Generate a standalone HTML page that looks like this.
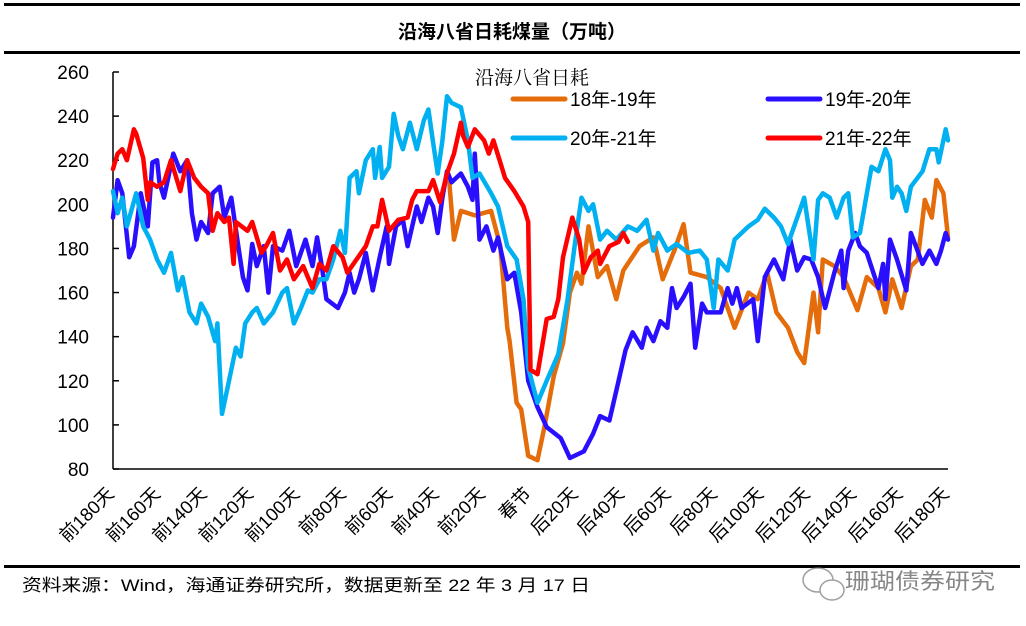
<!DOCTYPE html>
<html><head><meta charset="utf-8">
<style>
body{margin:0;background:#fff;width:1026px;height:626px;overflow:hidden;font-family:"Liberation Sans","Noto Sans CJK SC",sans-serif;}
svg{display:block}
</style></head>
<body>
<svg id="chart" width="1026" height="626" viewBox="0 0 1026 626" xmlns="http://www.w3.org/2000/svg">
<rect x="4" y="3" width="1016" height="3" fill="#000"/>
<text x="512" y="38" text-anchor="middle" font-size="19" font-weight="bold" font-family="'Liberation Sans','Noto Sans CJK SC',sans-serif">沿海八省日耗煤量（万吨）</text>
<rect x="4" y="51" width="1016" height="3" fill="#000"/>
<g id="axes"></g>
<g id="series"></g>
<g>
<text x="475" y="84" font-size="19" font-family="'Liberation Serif','Noto Serif CJK SC',serif">沿海八省日耗</text>
<line x1="513" y1="99" x2="565" y2="99" stroke="#E46C0A" stroke-width="5" stroke-linecap="round"/>
<text x="570" y="106" font-size="19">18年-19年</text>
<line x1="768" y1="99" x2="820" y2="99" stroke="#2A0FFF" stroke-width="5" stroke-linecap="round"/>
<text x="825" y="106" font-size="19">19年-20年</text>
<line x1="513" y1="138" x2="565" y2="138" stroke="#00B0F0" stroke-width="5" stroke-linecap="round"/>
<text x="570" y="145" font-size="19">20年-21年</text>
<line x1="768" y1="138" x2="820" y2="138" stroke="#FF0000" stroke-width="5" stroke-linecap="round"/>
<text x="825" y="145" font-size="19">21年-22年</text>
</g>
<rect x="4" y="565" width="1016" height="3" fill="#000"/>
<text x="22" y="591" font-size="17" textLength="568" lengthAdjust="spacingAndGlyphs">资料来源：Wind，海通证券研究所，数据更新至 22 年 3 月 17 日</text>
<g opacity="0.7">
<ellipse cx="818" cy="580" rx="15" ry="12" fill="none" stroke="#777" stroke-width="1.5"/>
<ellipse cx="832" cy="590" rx="12" ry="10" fill="#fff" stroke="#777" stroke-width="1.5"/>
<text x="845" y="589" font-size="22" fill="#555" textLength="150" lengthAdjust="spacingAndGlyphs">珊瑚债券研究</text>
</g>
</svg>
<script>
const yTicks = [80,100,120,140,160,180,200,220,240,260];
const xCats = ["前180天","前160天","前140天","前120天","前100天","前80天","前60天","前40天","前20天","春节","后20天","后40天","后60天","后80天","后100天","后120天","后140天","后160天","后180天"];
const s1819 = [[-35,210],[-33,184],[-30,197],[-24,195],[-17,197],[-13,181],[-10,144],[-9,138],[-6,110],[-4,107],[-1,86],[3,84],[6,99],[10,122],[14,137],[17,160],[20,169],[22,164],[25,190],[29,167],[33,172],[37,157],[40,170],[47,181],[53,185],[57,166],[62,179],[66,191],[69,169],[76,167],[82,162],[88,144],[94,160],[98,157],[102,169],[106,151],[111,144],[115,133],[118,128],[122,160],[124,142],[126,175],[131,172],[135,167],[141,152],[145,167],[150,162],[153,151],[156,166],[160,153],[164,172],[167,175],[170,202],[173,194],[175,211],[178,205],[180,185]];
const s1920 = [[-180,194],[-178,211],[-176,205],[-173,176],[-171,181],[-168,205],[-165,190],[-163,219],[-161,220],[-160,210],[-158,203],[-154,223],[-151,215],[-148,220],[-146,196],[-144,184],[-142,192],[-139,187],[-137,205],[-134,208],[-132,194],[-129,203],[-126,181],[-124,167],[-122,161],[-120,182],[-118,172],[-115,181],[-113,160],[-111,181],[-107,179],[-104,188],[-101,172],[-97,184],[-94,172],[-92,185],[-90,172],[-88,157],[-83,153],[-80,160],[-78,169],[-76,160],[-74,166],[-71,178],[-68,161],[-65,176],[-62,190],[-61,173],[-58,190],[-55,193],[-53,181],[-49,199],[-47,192],[-44,203],[-42,199],[-40,187],[-38,203],[-36,215],[-34,210],[-30,214],[-27,208],[-25,202],[-24,223],[-22,184],[-19,190],[-16,179],[-14,185],[-10,166],[-7,169],[-4,151],[-1,120],[3,108],[7,99],[13,94],[17,85],[23,88],[27,96],[30,104],[34,102],[38,120],[41,134],[44,142],[48,135],[50,144],[53,138],[56,147],[59,144],[61,162],[63,153],[66,158],[69,164],[71,135],[74,155],[76,151],[82,151],[85,162],[87,155],[89,162],[91,153],[96,157],[98,138],[101,167],[105,175],[109,166],[112,184],[115,170],[118,176],[121,175],[124,167],[127,153],[131,169],[134,179],[135,162],[137,179],[140,187],[142,181],[145,178],[150,162],[152,173],[153,157],[155,184],[158,175],[162,161],[164,187],[169,173],[172,179],[175,173],[177,179],[179,187],[180,184]];
const s2021 = [[-180,206],[-178,196],[-176,203],[-174,190],[-170,205],[-167,190],[-164,184],[-161,175],[-158,169],[-155,178],[-152,161],[-150,167],[-147,151],[-144,146],[-142,155],[-139,149],[-136,138],[-135,146],[-133,105],[-130,120],[-127,135],[-125,131],[-123,146],[-120,151],[-118,153],[-115,146],[-111,151],[-107,160],[-105,162],[-102,146],[-99,153],[-96,161],[-94,160],[-91,166],[-88,166],[-85,175],[-82,188],[-80,178],[-78,212],[-75,215],[-74,205],[-71,220],[-68,225],[-67,212],[-65,226],[-64,212],[-61,217],[-59,241],[-57,231],[-55,225],[-52,237],[-49,225],[-46,238],[-44,243],[-42,228],[-40,214],[-38,229],[-36,249],[-34,246],[-30,244],[-27,229],[-25,212],[-22,214],[-17,205],[-14,199],[-10,181],[-6,175],[-3,157],[-1,126],[3,110],[7,120],[12,132],[16,157],[19,181],[22,203],[25,197],[27,200],[30,184],[33,188],[37,184],[42,190],[46,188],[50,193],[53,179],[55,187],[59,179],[63,182],[68,178],[73,179],[76,175],[79,153],[81,175],[85,170],[88,184],[94,190],[98,193],[101,198],[105,194],[108,190],[111,182],[113,188],[118,203],[122,175],[124,202],[126,205],[129,203],[132,194],[135,203],[137,205],[139,185],[142,187],[147,217],[150,215],[153,225],[155,220],[156,203],[158,208],[160,205],[162,197],[164,208],[169,215],[172,225],[175,225],[176,219],[179,234],[180,229]];
const s2122 = [[-180,216],[-178,223],[-176,225],[-174,220],[-171,234],[-170,232],[-167,221],[-165,202],[-164,210],[-161,208],[-158,210],[-155,220],[-151,206],[-148,220],[-145,212],[-142,208],[-139,205],[-137,188],[-135,196],[-132,192],[-130,194],[-128,173],[-127,192],[-122,188],[-120,192],[-116,178],[-114,181],[-111,187],[-108,170],[-105,175],[-102,166],[-98,172],[-94,162],[-91,173],[-88,170],[-85,181],[-81,176],[-79,169],[-75,175],[-71,181],[-68,190],[-66,190],[-64,202],[-61,188],[-57,193],[-53,194],[-51,202],[-49,206],[-44,206],[-42,211],[-39,201],[-36,214],[-33,223],[-30,237],[-29,231],[-27,226],[-24,234],[-20,229],[-18,223],[-16,229],[-13,219],[-11,212],[-7,206],[-3,199],[-1,192],[0,125],[3,123],[7,148],[10,149],[12,157],[14,176],[18,194],[21,184],[23,169],[26,176],[29,179],[30,173],[34,181],[38,183],[40,187],[42,183]];

const NS = "http://www.w3.org/2000/svg";
const X0 = 113, X1 = 948, Y0 = 469, Y1 = 72;
const xs = d => X0 + (d + 180) / 360 * (X1 - X0);
const ys = v => Y0 - (v - 80) / 180 * (Y0 - Y1);
function mk(tag, attrs, parent){ const e = document.createElementNS(NS, tag); for (const k in attrs) e.setAttribute(k, attrs[k]); parent.appendChild(e); return e; }
const axes = document.getElementById('axes');
const yAxis = mk('line', {x1:X0, y1:Y1, x2:X0, y2:Y0, stroke:'#000', 'stroke-width':1.5}, axes);


const xAxis = mk('line', {x1:X0, y1:Y0, x2:X1, y2:Y0, stroke:'#000', 'stroke-width':1.5}, axes);


yTicks.forEach(v => {
  const t = mk('line', {x1:X0, y1:ys(v), x2:X0 + 6, y2:ys(v), stroke:'#000', 'stroke-width':1.5}, axes);
  
  
  const l = mk('text', {x:89, y:ys(v) + 7, 'text-anchor':'end', 'font-size':19}, axes);
  l.textContent = v;
  
  
});
xCats.forEach((c, i) => {
  const d = -180 + i * 20;
  const x = xs(d) + 2, y = 495;
  const l = mk('text', {x:x, y:y, 'text-anchor':'end', 'font-size':18.5, transform:`rotate(-45 ${x} ${y})`}, axes);
  l.textContent = c;
  
  
});
const g = document.getElementById('series');
[[s1819,'#E46C0A','series-18-19'],[s1920,'#2A0FFF','series-19-20'],[s2021,'#00B0F0','series-20-21'],[s2122,'#FF0000','series-21-22']].forEach(([data, col, name]) => {
  const p = mk('polyline', {points: data.map(([d,v]) => xs(d).toFixed(1) + ',' + ys(v).toFixed(1)).join(' '), fill:'none', stroke:col, 'stroke-width':4.5, 'stroke-linejoin':'round', 'stroke-linecap':'round'}, g);
  
  
});
</script>
</body></html>
